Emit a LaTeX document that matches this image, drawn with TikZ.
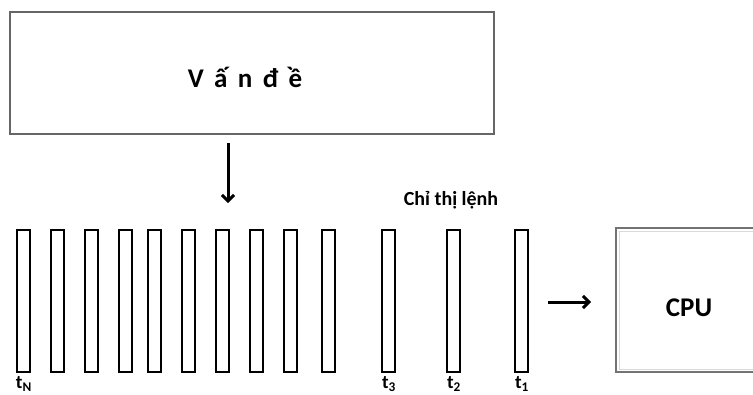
\documentclass[tikz,border=0pt]{standalone}
\usepackage{fontspec}
\setmainfont{Carlito}
\usetikzlibrary{arrows.meta}
\begin{document}
\begin{tikzpicture}[x=1pt,y=-1pt,
  bar/.style={draw=black,line width=2.4pt,minimum width=13pt,minimum height=142pt,inner sep=0pt},
  frame/.style={draw=black!60,line width=2pt,inner sep=0pt},
  tick/.style={font=\bfseries\fontsize{19}{19}\selectfont,inner sep=0pt,anchor=north west},
  flow/.style={line width=3pt,-{Straight Barb[length=6pt,width=12pt]}}]
\useasboundingbox (0,0) rectangle (753,394);

% problem box
\node[frame,minimum width=484pt,minimum height=122pt] (prob) at (252,73) {};
\node[font=\bfseries\fontsize{27}{27}\selectfont\addfontfeatures{LetterSpace=16}] (probtxt) at (245,77) {V ấ n đ ề};

% arrow from the problem box down to the instruction stream
\coordinate (dtop) at (228,143);
\coordinate (dbot) at (228,203);
\draw[flow] (dtop) -- (dbot);

% instruction stream
\foreach \i/\x in {1/23.5,2/57.5,3/91.5,4/125.5,5/154.5,6/188.5,7/222.5,8/256.5,9/290.5,10/328.5,11/388.5,12/453.5,13/521.5}
  \node[bar] (b\i) at (\x,301) {};

\node[font=\bfseries\fontsize{20}{20}\selectfont] (lbl) at (451,200) {Chỉ thị lệnh};

\node[tick] (tN) at ([xshift=0pt,yshift=-3pt]b1.south west) {t\textsubscript{N}};
\node[tick] (t3) at ([xshift=1pt,yshift=-3pt]b11.south west) {t\textsubscript{3}};
\node[tick] (t2) at ([xshift=1pt,yshift=-3pt]b12.south west) {t\textsubscript{2}};
\node[tick] (t1) at ([xshift=1pt,yshift=-3pt]b13.south west) {t\textsubscript{1}};

% CPU
\node[draw=black!55,line width=2pt,minimum width=146pt,minimum height=144pt,inner sep=0pt] (cpu) at (689,300) {};
\draw[black!15,line width=1pt] ([xshift=4pt,yshift=-4pt]cpu.north west) rectangle ([xshift=-4pt,yshift=4pt]cpu.south east);
\node[font=\bfseries\fontsize{27}{27}\selectfont] (cputxt) at ([yshift=-8pt]cpu.center) {CPU};

\coordinate (rsrc) at (548,302);
\coordinate (rdst) at (591,302);
\draw[flow] (rsrc) -- (rdst);
\end{tikzpicture}
\end{document}
